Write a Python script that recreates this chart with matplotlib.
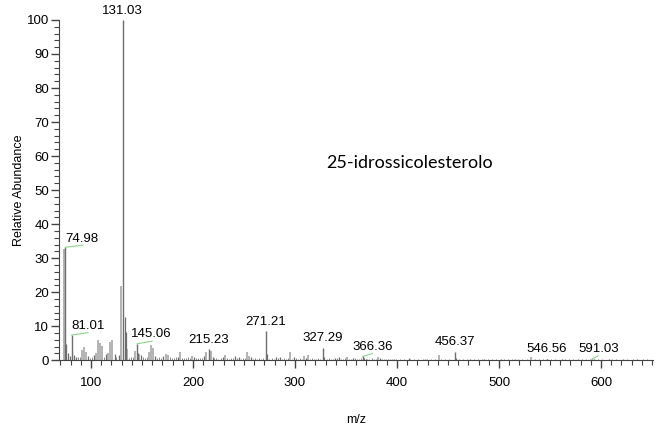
import matplotlib
matplotlib.use("Agg")
import matplotlib.pyplot as plt
from matplotlib.ticker import MultipleLocator

plt.rcParams.update({
    'font.family': ['Liberation Sans', 'DejaVu Sans'],
    'xtick.bottom': True, 'ytick.left': True,
    'xtick.major.size': 6, 'xtick.minor.size': 3.5,
    'ytick.major.size': 6, 'ytick.minor.size': 3.5,
    'xtick.major.width': 1.0, 'xtick.minor.width': 0.8,
    'ytick.major.width': 1.0, 'ytick.minor.width': 0.8,
    'xtick.color': '#444444', 'ytick.color': '#444444',
    'xtick.labelcolor': 'black', 'ytick.labelcolor': 'black',
    'xtick.direction': 'out', 'ytick.direction': 'out',
    'xtick.minor.visible': True, 'ytick.minor.visible': True,
})

# Labelled peaks (m/z, relative abundance)
label_mz = [74.98, 81.01, 131.03, 145.06, 215.23, 271.21, 327.29, 366.36, 456.37, 546.56, 591.03]
label_int = [33.2, 7.4, 100.0, 4.8, 3.2, 8.5, 3.7, 1.1, 2.5, 0.5, 0.3]

# Other prominent peaks (light grey)
light_mz = [74.0, 91.1, 93.1, 95.1, 105.1, 107.1, 109.1, 111.1, 117.1, 119.1, 121.1, 129.0, 135.1,
            143.1, 147.1, 157.1, 159.1, 161.1, 173.1, 175.1, 187.1, 199.1, 213.2, 217.2, 231.2, 253.2,
            255.2, 295.2, 309.2, 313.2, 351.3, 381.3, 441.3, 531.5]
light_int = [32.8, 3.0, 4.0, 2.5, 2.2, 5.8, 5.0, 4.2, 2.2, 5.5, 6.0, 21.8, 3.3,
             2.8, 1.8, 2.4, 4.5, 3.5, 1.8, 1.6, 2.3, 1.2, 2.5, 2.6, 1.4, 2.5,
             1.2, 2.3, 1.1, 1.4, 1.0, 0.9, 1.6, 0.8]

# Darker grey peaks
dark_mz = [76.0, 77.0, 79.0, 83.1, 85.1, 97.1, 103.1, 115.1, 123.1, 127.1, 133.0, 134.0, 145.9, 149.1,
           163.1, 171.1, 185.1, 201.2, 211.2, 219.2, 229.2, 241.2, 245.2, 257.2, 272.2, 281.2, 285.2,
           299.2, 311.2, 328.3, 339.3, 343.3, 357.3, 367.3, 369.3, 383.3, 397.3, 411.4, 427.4, 457.4,
           471.4, 485.4, 501.5, 515.5, 547.5, 561.5, 577.5, 593.5, 607.5, 621.5, 635.5]
dark_int = [4.9, 2.2, 1.2, 1.6, 1.0, 1.2, 1.4, 1.8, 1.9, 1.6, 12.8, 8.4, 2.2, 1.5,
            1.3, 1.1, 0.9, 1.0, 1.3, 1.0, 0.8, 1.2, 0.9, 1.0, 1.8, 0.8, 0.9,
            0.9, 0.7, 1.0, 0.6, 0.8, 0.7, 0.6, 0.5, 0.6, 0.5, 0.6, 0.5, 0.7,
            0.5, 0.4, 0.5, 0.4, 0.4, 0.5, 0.4, 0.3, 0.3, 0.3, 0.3]

# Baseline noise peaks (read as tiny spikes along the axis)
noise_mz = [87, 89, 99, 101, 113, 125, 137, 139, 141, 151, 153, 155, 165, 167, 169, 177, 179, 181,
            183, 189, 191, 193, 195, 197, 203, 205, 207, 209, 221, 223, 225, 227, 233, 235, 237, 239,
            243, 247, 249, 251, 259, 261, 263, 265, 267, 269, 275, 277, 279, 283, 287, 289, 291, 293,
            297, 301, 303, 305, 307, 315, 317, 319, 321, 323, 325, 331, 333, 335, 337, 341, 345, 347,
            349, 353, 355, 359, 361, 363, 365, 371, 373, 375, 377, 379, 385, 387, 389, 391, 393, 395,
            399, 403, 407, 413, 417, 421, 425, 429, 433, 437, 443, 447, 451, 461, 465, 469, 475, 479,
            483, 489, 493, 497, 505, 509, 513, 519, 523, 527, 535, 539, 543, 551, 555, 565, 569, 573,
            581, 585, 589, 597, 601, 611, 615, 625, 631, 641, 645]
noise_int = [1.0, 0.8, 0.7, 0.9, 0.8, 0.9, 0.7, 0.8, 0.9, 0.8, 0.7, 0.9, 0.6, 0.8, 0.7, 0.8, 0.6, 0.7,
             0.8, 0.6, 0.7, 0.6, 0.8, 0.6, 0.7, 0.6, 0.7, 0.6, 0.7, 0.6, 0.5, 0.7, 0.6, 0.5, 0.7, 0.6,
             0.6, 0.5, 0.6, 0.7, 0.5, 0.6, 0.5, 0.6, 0.5, 0.6, 0.5, 0.6, 0.5, 0.6, 0.5, 0.6, 0.5, 0.6,
             0.5, 0.6, 0.5, 0.6, 0.5, 0.5, 0.6, 0.5, 0.5, 0.6, 0.5, 0.5, 0.6, 0.5, 0.5, 0.6, 0.5, 0.5,
             0.6, 0.5, 0.5, 0.6, 0.5, 0.5, 0.6, 0.5, 0.5, 0.6, 0.5, 0.5, 0.5, 0.4, 0.5, 0.4, 0.5, 0.4,
             0.5, 0.4, 0.5, 0.4, 0.5, 0.4, 0.5, 0.4, 0.5, 0.4, 0.5, 0.4, 0.5, 0.4, 0.5, 0.4, 0.4, 0.5,
             0.4, 0.4, 0.5, 0.4, 0.4, 0.5, 0.4, 0.4, 0.5, 0.4, 0.4, 0.5, 0.4, 0.4, 0.5, 0.4, 0.4, 0.4,
             0.4, 0.3, 0.4, 0.3, 0.4, 0.3, 0.4, 0.3, 0.3, 0.3, 0.3]

# Offset labels: (leader end m/z, leader end height, text centre m/z, text baseline height)
leader_labels = {74.98: (92, 33.8, 91.5, 34.0),
                 81.01: (97, 8.1, 97.5, 8.4),
                 145.06: (160, 5.6, 159.5, 5.8),
                 366.36: (376, 2.0, 376.5, 2.2),
                 591.03: (597, 1.3, 597.5, 1.5)}

fig = plt.figure(figsize=(6.61, 4.34), dpi=100)
ax = fig.add_axes([0.089, 0.17, 0.899, 0.784])

ax.vlines(noise_mz, 0, noise_int, color='#8a8a8a', linewidth=0.7)
ax.vlines(light_mz, 0, light_int, color='#b3b3b3', linewidth=1.4)
ax.vlines(dark_mz, 0, dark_int, color='#6e6e6e', linewidth=0.9)
ax.vlines(label_mz, 0, label_int, color='#6e6e6e', linewidth=1.0)

for mz, it in zip(label_mz, label_int):
    if mz in leader_labels:
        ex, ey, tx, ty = leader_labels[mz]
        ax.plot([mz, ex], [it, ey], color='#88d888', linewidth=0.8, clip_on=False)
        ax.text(tx, ty, f"{mz:.2f}", ha='center', va='bottom', fontsize=9.5, clip_on=False)
    else:
        ax.text(mz, it + 1.0, f"{mz:.2f}", ha='center', va='bottom', fontsize=9.5, clip_on=False)

ax.set_xlim(68.5, 651)
ax.set_ylim(0, 100)
ax.spines['top'].set_visible(False)
ax.spines['right'].set_visible(False)
ax.spines['left'].set_color('#444444')
ax.spines['bottom'].set_color('#444444')
ax.xaxis.set_major_locator(MultipleLocator(100))
ax.xaxis.set_minor_locator(MultipleLocator(10))
ax.yaxis.set_major_locator(MultipleLocator(10))
ax.yaxis.set_minor_locator(MultipleLocator(2))
ax.tick_params(axis='both', which='major', labelsize=9.5)
ax.tick_params(axis='x', which='major', pad=6)
ax.tick_params(axis='y', which='major', pad=1)
for t in ax.xaxis.get_major_ticks() + ax.xaxis.get_minor_ticks() + ax.yaxis.get_major_ticks() + ax.yaxis.get_minor_ticks():
    t.tick1line.set_visible(True)
    t.tick1line.set_color('#444444')
ax.set_xlabel('m/z', fontsize=9, labelpad=18)
ax.set_ylabel('Relative Abundance', fontsize=9, labelpad=1)

ax.text(412, 58, '25-idrossicolesterolo', ha='center', va='center', fontsize=13,
        family=['Lato', 'DejaVu Sans'])

fig.savefig('out.png', dpi=100)
